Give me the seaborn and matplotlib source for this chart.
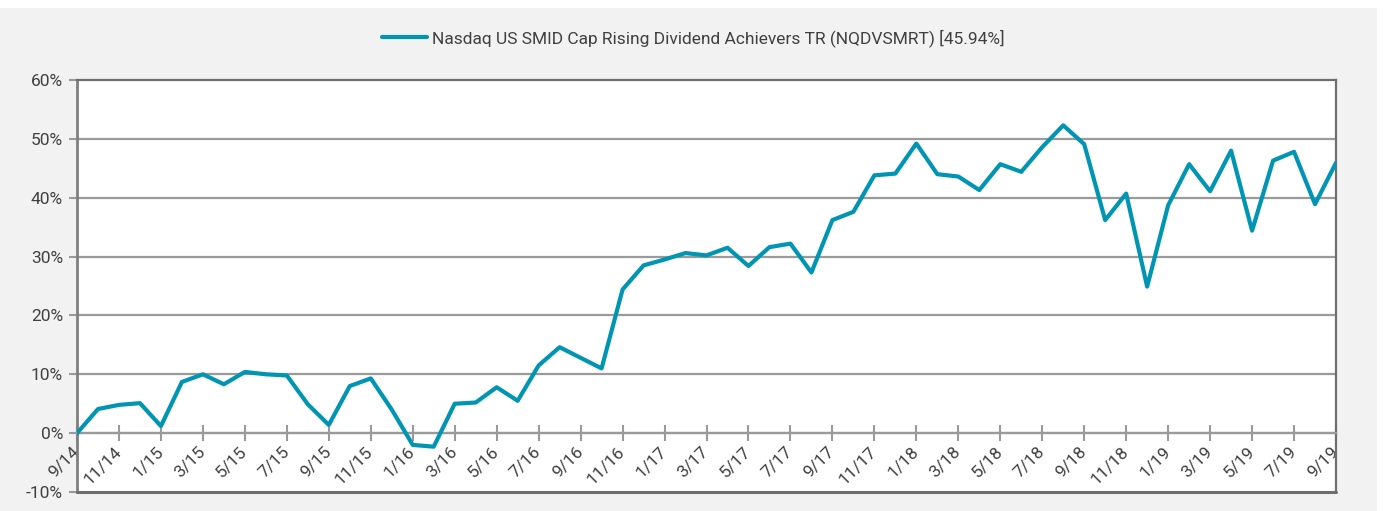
import matplotlib
matplotlib.use("Agg")
import matplotlib.pyplot as plt
import matplotlib.patches as mpatches
from matplotlib.ticker import FuncFormatter
import seaborn as sns
import pandas as pd
import numpy as np

# ── data (cumulative total return, %) ────────────────────────────────────────
months = [p.strftime("%-m/%y") for p in pd.period_range("2014-09", "2019-09", freq="M")]
returns = [0.0, 4.1, 4.8, 5.1, 1.2, 8.7, 10.0, 8.3, 10.4, 10.0, 9.8, 4.9, 1.4, 8.0, 9.3, 4.0, -2.0, -2.3, 5.0,
           5.2, 7.8, 5.5, 11.5, 14.6, 12.8, 11.0, 24.4, 28.5, 29.5, 30.6, 30.2, 31.5, 28.4, 31.6, 32.2, 27.3,
           36.2, 37.6, 43.8, 44.1, 49.2,
           44.0, 43.6, 41.3, 45.7, 44.4, 48.6, 52.3, 49.1, 36.2, 40.7, 24.9, 38.7, 45.7, 41.1, 48.0, 34.4,
           46.3, 47.8, 38.9, 45.94]
series_name = "Nasdaq US SMID Cap Rising Dividend Achievers TR (NQDVSMRT) [45.94%]"
y_ticks = [-10, 0, 10, 20, 30, 40, 50, 60]

df = pd.DataFrame({"month": months, "ret": returns})
df["idx"] = np.arange(len(df))

# ── style ────────────────────────────────────────────────────────────────────
sns.set_theme(style="white")
plt.rcParams["font.family"] = ["Roboto", "DejaVu Sans"]
TEXT = "#404040"
LINE = "#0095B3"
GRID = "#9A9A9A"
EDGE = "#6E6E6E"
FS = 12.5

fig = plt.figure(figsize=(13.86, 5.11), dpi=100)
fig.patch.set_facecolor("white")
fig.patches.append(mpatches.Rectangle((0, 0), 1377 / 1386, 1 - 8 / 511,
                                      transform=fig.transFigure, facecolor="#F2F2F2",
                                      edgecolor="none", zorder=-10))
ax = fig.add_axes([77 / 1386, 1 - 492 / 511, (1336 - 77) / 1386, (492 - 80) / 511])
ax.set_facecolor("white")

for yv in y_ticks[1:-1]:
    ax.axhline(yv, color=GRID, lw=1.6, zorder=1)

sns.lineplot(data=df, x="idx", y="ret", ax=ax, color=LINE, linewidth=3.0,
             zorder=3, legend=False)

# spines first: moving the bottom spine resets the x ticks
for side in ["top", "right"]:
    ax.spines[side].set_color(EDGE); ax.spines[side].set_linewidth(1.6)
ax.spines["left"].set_color("#808080"); ax.spines["left"].set_linewidth(2.0)
ax.spines["bottom"].set_position(("data", 0))
ax.spines["bottom"].set_color(GRID); ax.spines["bottom"].set_linewidth(1.6)
ax.axhline(-10, color=EDGE, lw=2.2, zorder=4, clip_on=False)

ax.set_xlim(0, len(df) - 1)
ax.set_ylim(-10, 60)
ax.set_yticks(y_ticks)
ax.yaxis.set_major_formatter(FuncFormatter(lambda v, _: f"{v:.0f}%"))
ax.set_xticks(df["idx"][::2])
ax.set_xticklabels(df["month"][::2])
ax.set_xlabel(""); ax.set_ylabel("")

ax.tick_params(axis="x", bottom=True, direction="inout", length=11, width=1.5,
               color=GRID, labelsize=FS, labelcolor=TEXT, pad=6)
ax.tick_params(axis="y", left=True, direction="out", length=6, width=1.5,
               color=GRID, labelsize=FS, labelcolor=TEXT, pad=4)
plt.setp(ax.get_xticklabels(), rotation=45, ha="right", va="center",
         rotation_mode="anchor")

handle = plt.Line2D([], [], color=LINE, lw=3.0, solid_capstyle="round")
fig.legend([handle], [series_name], loc="center", bbox_to_anchor=(0.5, 1 - 38 / 511),
           frameon=False, fontsize=FS, labelcolor=TEXT, handlelength=2.6,
           handletextpad=0.3)

fig.savefig("out.png", dpi=100)
